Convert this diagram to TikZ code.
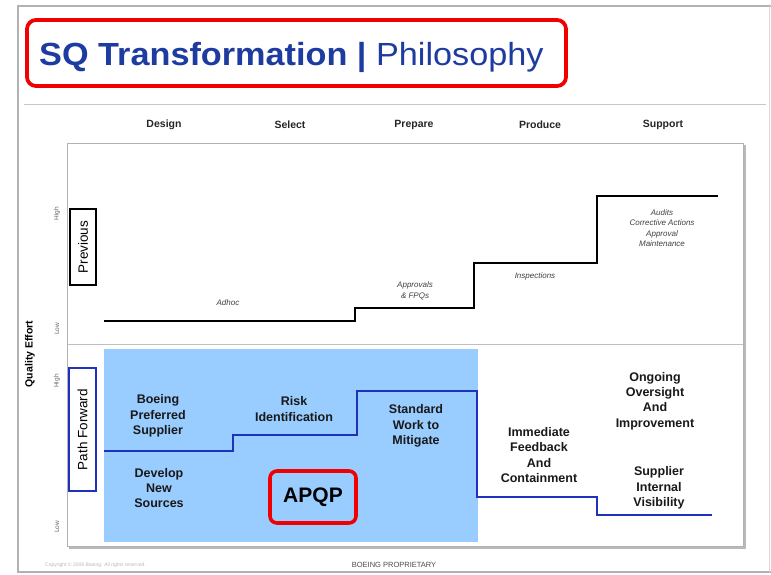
\documentclass[tikz,border=0pt]{standalone}
\usepackage{fontspec}
\setmainfont{Liberation Sans}
\definecolor{titleblue}{RGB}{30,60,160}
\definecolor{fillblue}{RGB}{153,204,255}
\definecolor{lineblue}{RGB}{30,50,190}
\definecolor{boxred}{RGB}{240,0,0}
\tikzset{
  redbox/.style={draw=boxred, line width=3.8pt, rounded corners=9pt, inner sep=0pt},
  colhead/.style={font=\fontsize{10.5}{12}\selectfont\bfseries, text=black!85, inner sep=0pt},
  smalllabel/.style={font=\fontsize{8}{10.5}\selectfont\itshape, text=black!75, align=center, inner sep=0pt},
  boldlabel/.style={font=\fontsize{12.5}{15.3}\selectfont\bfseries, text=black!90, align=center, inner sep=0pt},
  axislabel/.style={font=\fontsize{6.5}{8}\selectfont, text=black!60, rotate=90, inner sep=0pt},
  sidebox/.style={draw, line width=1.3pt, rotate=90, font=\fontsize{13.5}{16}\selectfont, inner sep=0pt},
  stepline/.style={line width=2.6pt, line join=miter},
}
\begin{document}
\begin{tikzpicture}[x=1pt,y=-1pt]
\useasboundingbox (0,0) rectangle (771,574);
\fill[white] (0,0) rectangle (771,574);
% slide frame
\draw[gray!60, line width=1.4pt] (771,6) -- (18,6) -- (18,572) -- (771,572);
\draw[gray!30, line width=0.8pt] (769,6) -- (769,572);
% title
\node[anchor=base west, text=titleblue, inner sep=0pt, xscale=1.07, font=\fontsize{32}{36}\selectfont] (title) at (39,65) {\textbf{SQ Transformation |} Philosophy};
\node[redbox, minimum width=539pt, minimum height=66pt] (titlebox) at (296.5,53) {};
\draw[gray!45, line width=1pt] (24,104) -- (766,104);
% column headers
\node[colhead] (design) at (164,125) {Design};
\node[colhead] (select) at (290,125) {Select};
\node[colhead] (prepare) at (414,125) {Prepare};
\node[colhead] (produce) at (540,125) {Produce};
\node[colhead] (support) at (663,125) {Support};
% chart area
\fill[fillblue] (104,349) rectangle (478,542);
\draw[gray!55, line width=1.6pt] (745,145) -- (745,548) -- (69,548);
\draw[gray!60, line width=0.9pt] (67,143) rectangle (743,546);
\draw[gray!50, line width=0.9pt] (67,344) -- (743,344);
% axis labels
\node[font=\fontsize{10.5}{12}\selectfont\bfseries, rotate=90, inner sep=0pt] (qe) at (30,354) {Quality Effort};
\node[axislabel] (high1) at (57,214) {High};
\node[axislabel] (low1) at (57,329) {Low};
\node[axislabel] (high2) at (57,381) {High};
\node[axislabel] (low2) at (57,527) {Low};
\node[sidebox, minimum width=76pt, minimum height=26pt] (previous) at (83,247) {Previous};
\node[sidebox, draw=lineblue, minimum width=123pt, minimum height=27pt] (pathfwd) at (82.5,429.5) {Path Forward};
% previous step line
\draw[stepline] (104,321) -- (355,321) -- (355,308) -- (474,308) -- (474,263) -- (597,263) -- (597,196) -- (718,196);
\node[smalllabel] (adhoc) at (228,303) {Adhoc};
\node[smalllabel] (approvals) at (415,291) {Approvals\\\& FPQs};
\node[smalllabel] (inspections) at (535,276) {Inspections};
\node[smalllabel] (audits) at (662,228) {Audits\\Corrective Actions\\Approval\\Maintenance};
% path forward step line
\draw[stepline, lineblue] (104,451) -- (233,451) -- (233,435) -- (357,435) -- (357,391) -- (477,391) -- (477,497) -- (597,497) -- (597,515) -- (712,515);
\node[boldlabel] (boeing) at (158,416) {Boeing\\Preferred\\Supplier};
\node[boldlabel] (risk) at (294,409) {Risk\\Identification};
\node[boldlabel] (standard) at (416,426) {Standard\\Work to\\Mitigate};
\node[boldlabel] (develop) at (159,488) {Develop\\New\\Sources};
\node[boldlabel] (immediate) at (539,455) {Immediate\\Feedback\\And\\Containment};
\node[boldlabel] (ongoing) at (655,401) {Ongoing\\Oversight\\And\\Improvement};
\node[boldlabel] (supplier) at (659,488) {Supplier\\Internal\\Visibility};
\node[redbox, line width=3.6pt, rounded corners=7pt, minimum width=86pt, minimum height=52pt] (apqpbox) at (313,497) {};
\node[font=\fontsize{21}{24}\selectfont\bfseries, inner sep=0pt] (apqp) at (313,497) {APQP};
% footer
\node[font=\fontsize{5}{6}\selectfont, text=gray!55, anchor=west, inner sep=0pt] (copyright) at (45,565) {Copyright © 2008 Boeing. All rights reserved.};
\node[font=\fontsize{7.5}{9}\selectfont, text=black!70, inner sep=0pt] (proprietary) at (394,565) {BOEING PROPRIETARY};
\end{tikzpicture}
\end{document}
